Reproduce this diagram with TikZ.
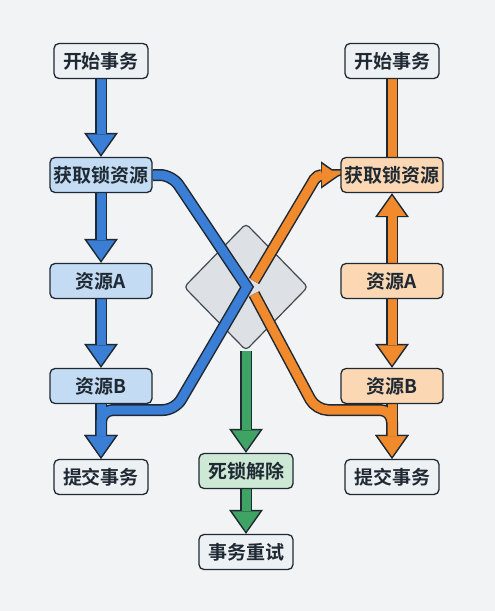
\documentclass[tikz,border=0pt]{standalone}
\usepackage{fontspec}
\setmainfont{Noto Sans CJK SC}[BoldFont={Noto Sans CJK SC Bold}]
\usetikzlibrary{arrows.meta,shapes.geometric,backgrounds}

\definecolor{paper}{HTML}{F1F3F5}
\definecolor{edge}{HTML}{1F2933}
\definecolor{plain}{HTML}{EEF1F4}
\definecolor{bluefill}{HTML}{C3DBF3}
\definecolor{blueline}{HTML}{3A7FD5}
\definecolor{orangefill}{HTML}{FBD8B3}
\definecolor{orangeline}{HTML}{F08A2C}
\definecolor{greenfill}{HTML}{CDE8D4}
\definecolor{greenline}{HTML}{3FA463}
\definecolor{lockfill}{HTML}{DDE1E6}

\tikzset{
  box/.style={rectangle,rounded corners=5pt,draw=edge,line width=1.3pt,
    minimum height=35pt,minimum width=94pt,inner sep=0pt,text=edge,
    font=\fontsize{19}{22}\selectfont\bfseries},
  wide/.style={box,minimum width=102pt},
  lock/.style={diamond,draw=edge!85,line width=1.2pt,fill=lockfill,
    rounded corners=4pt,minimum width=124pt,minimum height=127pt,inner sep=0pt},
  fathead/.style n args={3}{shorten >=#3,-{Triangle[width=#1,length=#2,line width=0pt]}},
}

\begin{document}
\begin{tikzpicture}[x=1pt,y=-1pt]
  \useasboundingbox (0,0) rectangle (495,611);
  % left transaction
  \node at (101, 61) [box,fill=plain] (L1) {开始事务};
  \node at (101,175) [wide,fill=bluefill] (L2) {获取锁资源};
  \node at (101,281) [wide,fill=bluefill] (L3) {资源A};
  \node at (101,386) [wide,fill=bluefill] (L4) {资源B};
  \node at (101,477) [box,fill=plain] (L5) {提交事务};
  % right transaction
  \node at (392, 61) [box,fill=plain] (R1) {开始事务};
  \node at (392,175) [wide,fill=orangefill] (R2) {获取锁资源};
  \node at (392,281) [wide,fill=orangefill] (R3) {资源A};
  \node at (392,386) [wide,fill=orangefill] (R4) {资源B};
  \node at (392,477) [box,fill=plain] (R5) {提交事务};
  % deadlock handling
  \node at (246,471) [box,fill=greenfill] (G1) {死锁解除};
  \node at (246,552) [box,fill=plain] (G2) {事务重试};

  \begin{scope}[on background layer]
    \fill[paper] (0,0) rectangle (495,611);
    \node at (246,287) [lock] (D) {};
    \coordinate (X) at (247,287);
    \coordinate (Xu) at (254,281);
    \coordinate (Xd) at (254,294);
    % orange: outline pass, then colour pass
    \foreach \lw/\col/\hw/\hl/\sh in {12pt/edge/34pt/24pt/0pt, 9pt/orangeline/28pt/20pt/2.6pt} {
      \draw[line width=\lw,draw=\col] (R1.south) -- (R2.north);
      \draw[line width=\lw,draw=\col,fathead={\hw}{\hl}{\sh}] (R3.north) -- (R2.south);
      \draw[line width=\lw,draw=\col,fathead={\hw}{\hl}{\sh}] (R3.south) -- (R4.north);
      \draw[line width=\lw,draw=\col,fathead={\hw}{\hl}{\sh}] (R4.south) -- (R5.north);
      \draw[line width=\lw,draw=\col,rounded corners=12pt,fathead={\hw}{\hl}{\sh}]
        (Xd) -- (316,410) -- (392,410) -- (R5.north);
      \draw[line width=\lw,draw=\col,rounded corners=5pt,shorten >=\sh,
        -{Triangle[width=\hw,length=\hl,line width=0pt,scale=0.8]}]
        (Xu) -- (317,175) -- (R2.west);
    }
    % blue
    \foreach \lw/\col/\hw/\hl/\sh in {12pt/edge/34pt/24pt/0pt, 9pt/blueline/28pt/20pt/2.6pt} {
      \draw[line width=\lw,draw=\col,fathead={\hw}{\hl}{\sh}] (L1.south) -- (L2.north);
      \draw[line width=\lw,draw=\col,fathead={\hw}{\hl}{\sh}] (L2.south) -- (L3.north);
      \draw[line width=\lw,draw=\col,fathead={\hw}{\hl}{\sh}] (L3.south) -- (L4.north);
      \draw[line width=\lw,draw=\col,fathead={\hw}{\hl}{\sh}] (L4.south) -- (L5.north);
      \draw[line width=\lw,draw=\col,rounded corners=12pt,fathead={\hw}{\hl}{\sh}]
        (L2.east) -- (172,175) [sharp corners] -- (X) [rounded corners=12pt]
        -- (175,410) -- (101,410) -- (L5.north);
    }
    % green
    \foreach \lw/\col/\hw/\hl/\sh in {12pt/edge/34pt/24pt/0pt, 9pt/greenline/28pt/20pt/2.6pt} {
      \draw[line width=\lw,draw=\col,fathead={\hw}{\hl}{\sh}] (D.south) -- (G1.north);
      \draw[line width=\lw,draw=\col,fathead={\hw}{\hl}{\sh}] (G1.south) -- (G2.north);
    }
  \end{scope}
\end{tikzpicture}
\end{document}
